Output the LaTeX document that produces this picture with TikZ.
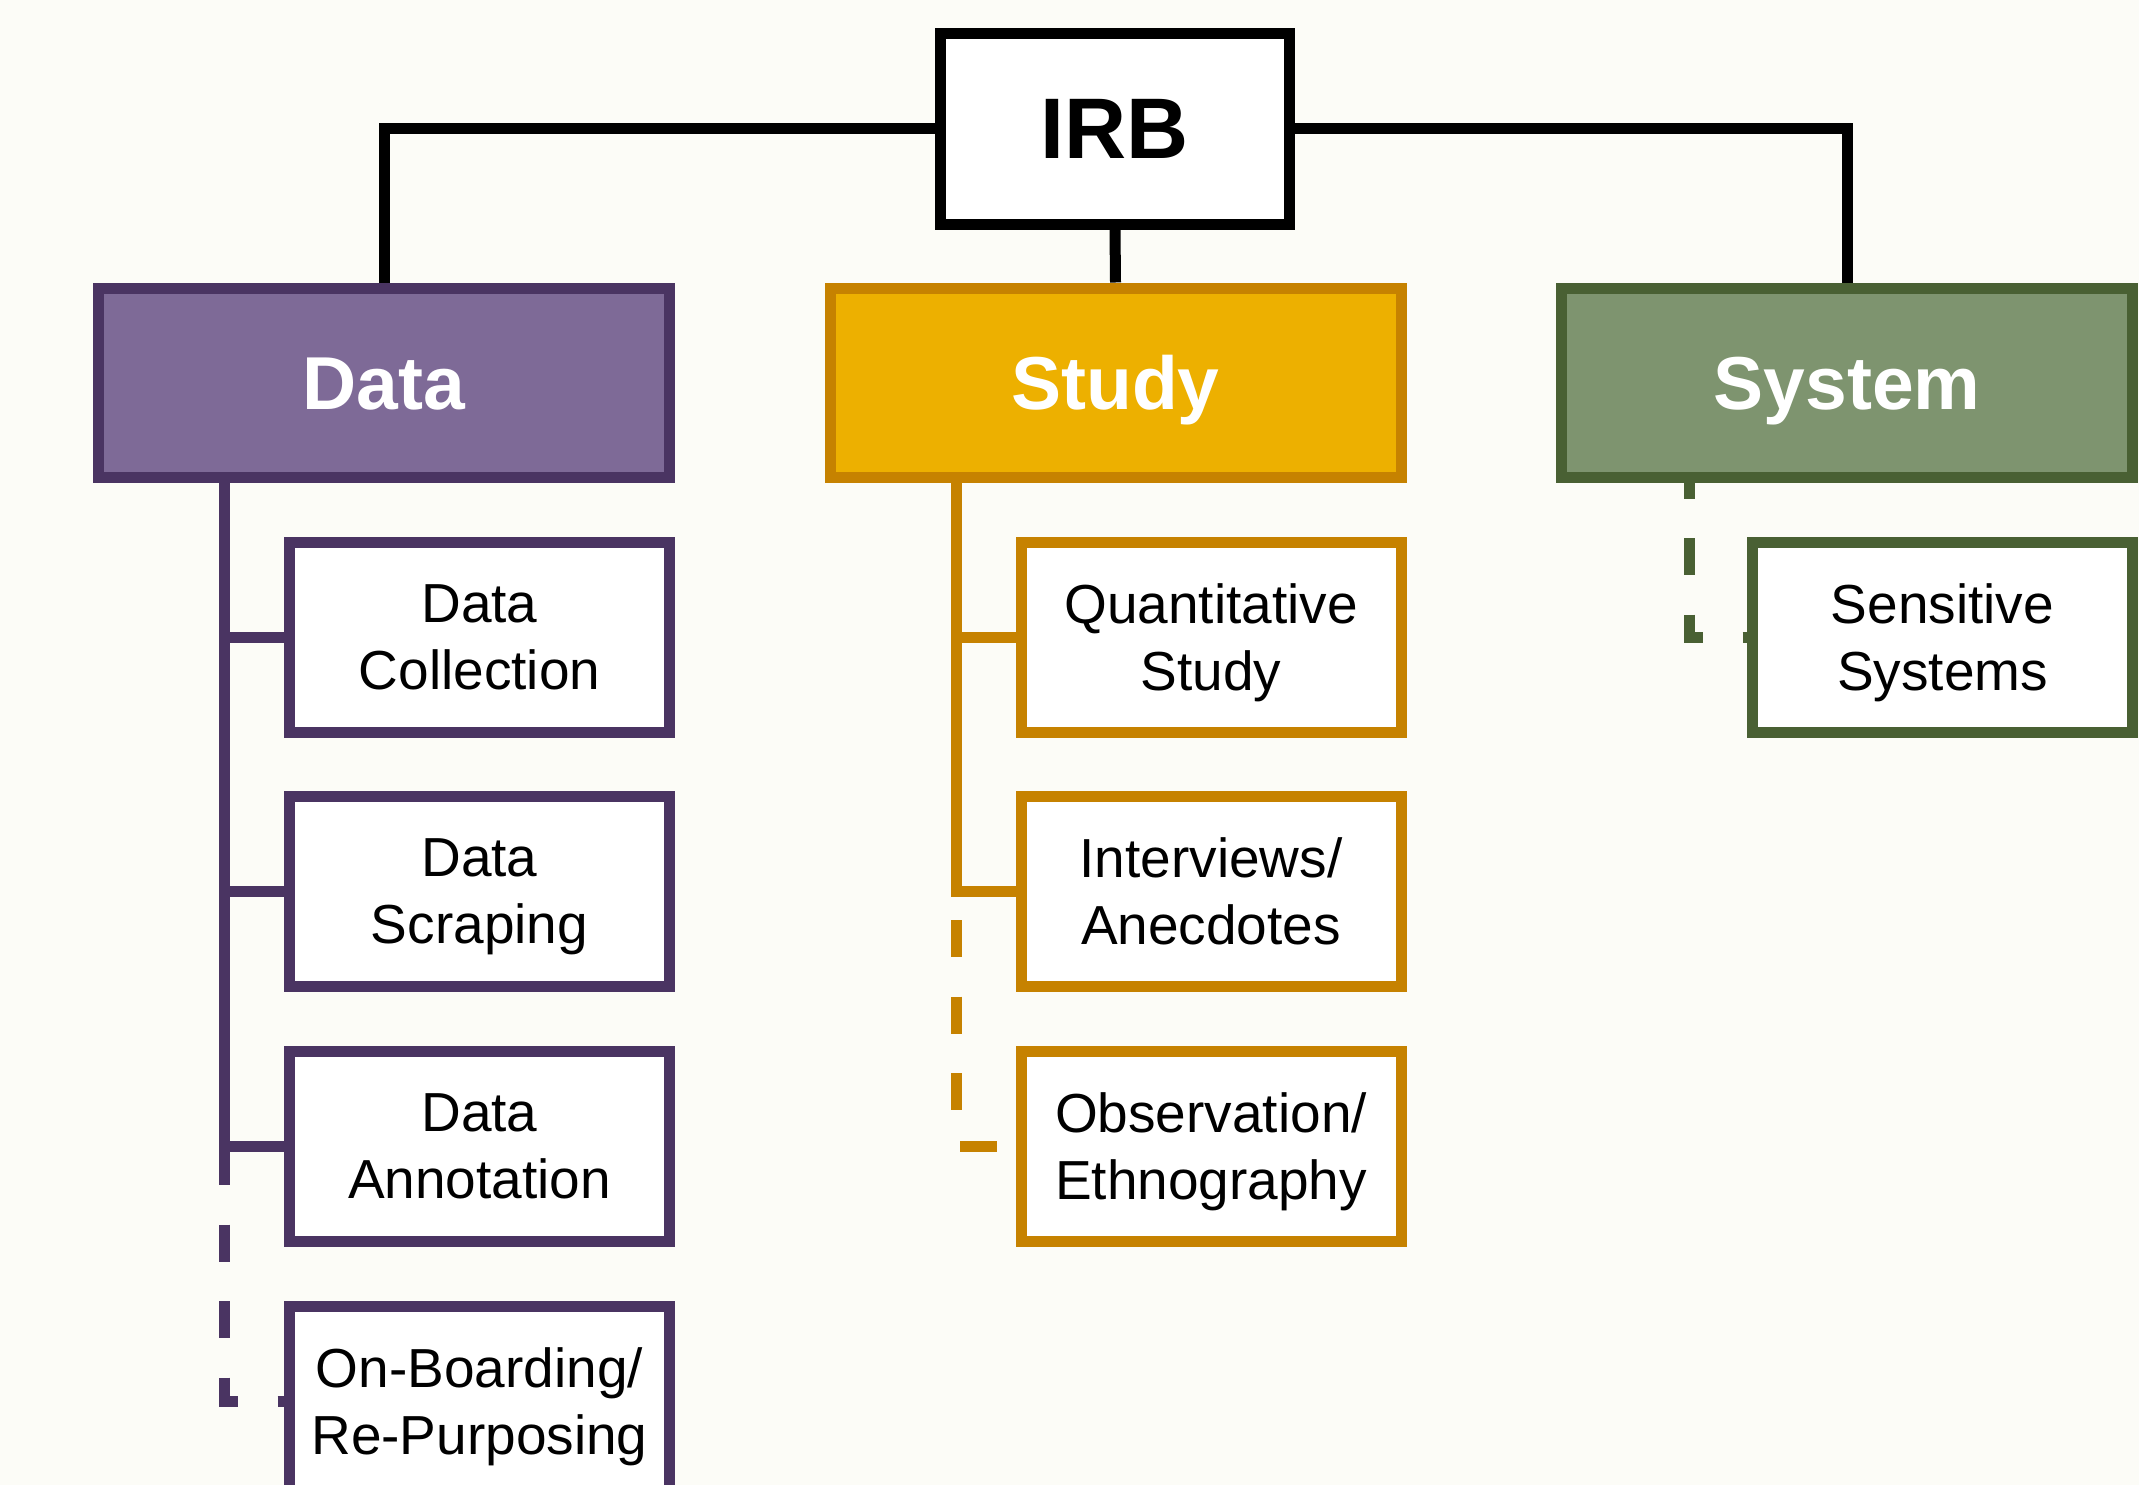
\documentclass[tikz,border=0pt]{standalone}
\usepackage{fontspec}
\setmainfont{Liberation Sans}
\definecolor{bgc}{HTML}{FCFCF7}
\definecolor{dataF}{HTML}{7E6A97}
\definecolor{dataB}{HTML}{4A3462}
\definecolor{studyF}{HTML}{EDB000}
\definecolor{studyB}{HTML}{C68200}
\definecolor{sysF}{HTML}{7E946F}
\definecolor{sysB}{HTML}{496033}
\pgfdeclarelayer{backlayer}
\pgfdeclarelayer{connlayer}
\pgfsetlayers{backlayer,connlayer,main}
\begin{document}
\begin{tikzpicture}[x=1pt,y=-1pt,
  irbbox/.style={draw=black,line width=11pt,fill=white,rectangle,inner sep=0pt,minimum width=349pt,minimum height=191pt,
    font=\fontsize{86}{90}\selectfont\bfseries},
  headbox/.style={draw,line width=11pt,rectangle,inner sep=0pt,minimum width=571pt,minimum height=189pt,
    text=white,text height=54pt,text depth=0pt,font=\fontsize{75}{80}\selectfont\bfseries},
  subbox/.style={draw,line width=11pt,fill=white,rectangle,inner sep=0pt,minimum width=380pt,minimum height=190pt,
    align=center,text depth=0pt,font=\fontsize{55}{67}\selectfont},
  conn/.style={draw=black,line width=11pt},
  branch/.style={draw=#1,line width=11pt},
  dashconn/.style={dash pattern=on 37pt off 39.5pt}]
\useasboundingbox (0,0) rectangle (2139,1485);
\clip (0,0) rectangle (2139,1485);
\begin{pgfonlayer}{backlayer}
\fill[bgc] (0,0) rectangle (2139,1485);
\end{pgfonlayer}

% nodes
\node[irbbox] (irb) at (1115,129) {IRB};
\node[headbox,fill=dataF,draw=dataB] (data) at (384,382.5) {Data};
\node[headbox,fill=studyF,draw=studyB] (study) at (1115.5,382.5) {Study};
\node[headbox,fill=sysF,draw=sysB] (system) at (1847,382.5) {System};

\coordinate (dt) at (224.5,476.5);
\coordinate (st) at (956.5,476.5);
\coordinate (syt) at (1689,476.5);

\node[subbox,draw=dataB] (dcol) at (479.5,637.5) {Data\\Collection};
\node[subbox,draw=dataB] (dscr) at (479.5,891.5) {Data\\Scraping};
\node[subbox,draw=dataB] (dann) at (479.5,1146) {Data\\Annotation};
\node[subbox,draw=dataB] (dob) at (479.5,1401) {On-Boarding/\\Re-Purposing};

\node[subbox,draw=studyB] (squa) at (1211,637.5) {Quantitative\\Study};
\node[subbox,draw=studyB] (sint) at (1211,891.5) {Interviews/\\Anecdotes};
\node[subbox,draw=studyB] (sobs) at (1211,1146) {Observation/\\Ethnography};

\node[subbox,draw=sysB] (ssen) at (1942.5,637.5) {Sensitive\\Systems};

% connectors, behind the boxes
\begin{pgfonlayer}{connlayer}
\draw[conn] (irb.west) -| (data.north);
\draw[conn] (irb.east) -| (system.north);
\draw[conn] (irb.south) -- (study.north);

\draw[branch=dataB] (dt) |- (dcol.west);
\draw[branch=dataB] (dt) |- (dscr.west);
\draw[branch=dataB] (dt) |- (dann.west);
\draw[branch=dataB,dashconn,dash phase=74.5pt] (dann.west -| dt) |- (dob.west);

\draw[branch=studyB] (st) |- (squa.west);
\draw[branch=studyB] (st) |- (sint.west);
\draw[branch=studyB,dashconn,dash phase=48pt] (sint.west -| st) |- (sobs.west);

\draw[branch=sysB,dashconn,dash phase=15pt] (syt) |- (ssen.west);
\end{pgfonlayer}
\end{tikzpicture}
\end{document}
